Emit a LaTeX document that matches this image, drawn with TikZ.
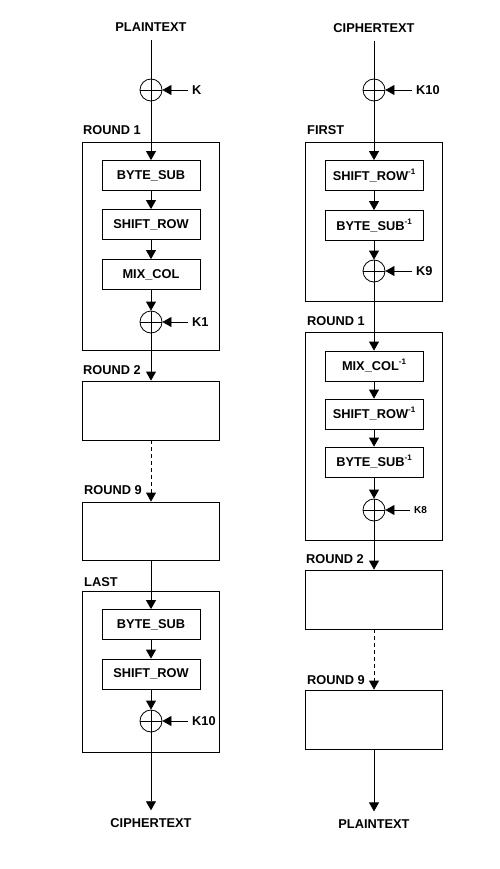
\documentclass[tikz,border=0pt]{standalone}
\usepackage{fontspec}
\setmainfont{Liberation Sans}
\usetikzlibrary{arrows.meta}
\newcommand{\inv}{\raisebox{6pt}{\fontsize{8}{9}\selectfont -1}}
\tikzset{
  lbl/.style={font=\fontsize{12.8}{14}\selectfont\bfseries, inner sep=0pt},
  ibox/.style={draw, line width=0.8pt, minimum width=98pt, minimum height=30pt, inner sep=0pt, font=\fontsize{12.8}{14}\selectfont\bfseries},
  obox/.style={draw, line width=0.8pt, inner sep=0pt, minimum width=137pt},
  xor/.style={circle, draw, line width=0.8pt, minimum size=22pt, inner sep=0pt,
    path picture={\draw[line width=0.8pt] (path picture bounding box.west) -- (path picture bounding box.east)
      (path picture bounding box.north) -- (path picture bounding box.south);}},
  arr/.style={-{Triangle[width=10pt,length=9pt]}, line width=0.8pt},
  ln/.style={line width=0.8pt},
  keyl/.style={lbl, anchor=west, inner xsep=4pt},
  term/.style={lbl, inner sep=8pt},
  rlbl/.style={lbl, anchor=base west},
  dsh/.style={dash pattern=on 4pt off 3pt}
}
\begin{document}
\begin{tikzpicture}[x=1pt,y=-1pt]
\useasboundingbox (0,0) rectangle (500,869);
% ---------- left column (encryption) ----------
\node[term] (pt) at (151,27) {PLAINTEXT};
\node[xor] (x0) at (151,90) {};
\node[keyl] (k0) at (188,90) {K};
\node[rlbl] at (83,135) {ROUND 1};
\node[obox, minimum height=208pt] (r1) at (151,246) {};
\node[ibox] (bs1) at (151,175.5) {BYTE\_SUB};
\node[ibox] (sr1) at (151,224.5) {SHIFT\_ROW};
\node[ibox] (mc1) at (151,274.5) {MIX\_COL};
\node[xor] (x1) at (151,322) {};
\node[keyl] (k1) at (188,322) {K1};
\node[rlbl] at (83,374.5) {ROUND 2};
\node[obox, minimum height=59pt] (r2) at (151,410.5) {};
\node[rlbl] at (84,494.5) {ROUND 9};
\node[obox, minimum height=58pt] (r9) at (151,531) {};
\node[rlbl] at (84,586.5) {LAST};
\node[obox, minimum height=161pt] (rl) at (151,671.5) {};
\node[ibox] (bs10) at (151,624.5) {BYTE\_SUB};
\node[ibox] (sr10) at (151,674) {SHIFT\_ROW};
\node[xor] (x10) at (151,721) {};
\node[keyl] (k10) at (188,721) {K10};
\node[term] (ct) at (151,823) {CIPHERTEXT};

\draw[ln] (pt.south) -- (x0.north);
\draw[arr] (k0.west) -- (x0.east);
\draw[arr] (x0.south) -- (bs1.north);
\draw[arr] (bs1.south) -- (sr1.north);
\draw[arr] (sr1.south) -- (mc1.north);
\draw[arr] (mc1.south) -- (x1.north);
\draw[arr] (k1.west) -- (x1.east);
\draw[arr] (x1.south) -- (r2.north);
\draw[arr, dsh] (r2.south) -- (r9.north);
\draw[arr] (r9.south) -- (bs10.north);
\draw[arr] (bs10.south) -- (sr10.north);
\draw[arr] (sr10.south) -- (x10.north);
\draw[arr] (k10.west) -- (x10.east);
\draw[arr] (x10.south) -- (ct.north);

% ---------- right column (decryption) ----------
\node[term] (ct2) at (374,28) {CIPHERTEXT};
\node[xor] (y0) at (374,90) {};
\node[keyl] (j10) at (412,90) {K10};
\node[rlbl] at (307,135) {FIRST};
\node[obox, minimum height=159pt] (f1) at (374,221.5) {};
\node[ibox] (isr1) at (374,175.5) {SHIFT\_ROW\inv};
\node[ibox] (ibs1) at (374,225.5) {BYTE\_SUB\inv};
\node[xor] (y9) at (374,271) {};
\node[keyl] (j9) at (412,271) {K9};
\node[rlbl] at (307,325.5) {ROUND 1};
\node[obox, minimum height=208pt] (q1) at (374,436) {};
\node[ibox] (imc) at (374,366) {MIX\_COL\inv};
\node[ibox] (isr2) at (374,414) {SHIFT\_ROW\inv};
\node[ibox] (ibs2) at (374,462) {BYTE\_SUB\inv};
\node[xor] (y8) at (374,510) {};
\node[keyl, font=\fontsize{10}{12}\selectfont\bfseries] (j8) at (410,510) {K8};
\node[rlbl] at (306,563.5) {ROUND 2};
\node[obox, minimum height=59pt] (q2) at (374,599.5) {};
\node[rlbl] at (307,684.5) {ROUND 9};
\node[obox, minimum height=59pt] (q9) at (374,719.5) {};
\node[term] (pt2) at (374,824) {PLAINTEXT};

\draw[ln] (ct2.south) -- (y0.north);
\draw[arr] (j10.west) -- (y0.east);
\draw[arr] (y0.south) -- (isr1.north);
\draw[arr] (isr1.south) -- (ibs1.north);
\draw[arr] (ibs1.south) -- (y9.north);
\draw[arr] (j9.west) -- (y9.east);
\draw[arr] (y9.south) -- (imc.north);
\draw[arr] (imc.south) -- (isr2.north);
\draw[arr] (isr2.south) -- (ibs2.north);
\draw[arr] (ibs2.south) -- (y8.north);
\draw[arr] (j8.west) -- (y8.east);
\draw[arr] (y8.south) -- (q2.north);
\draw[arr, dsh] (q2.south) -- (q9.north);
\draw[arr] (q9.south) -- (pt2.north);
\end{tikzpicture}
\end{document}
